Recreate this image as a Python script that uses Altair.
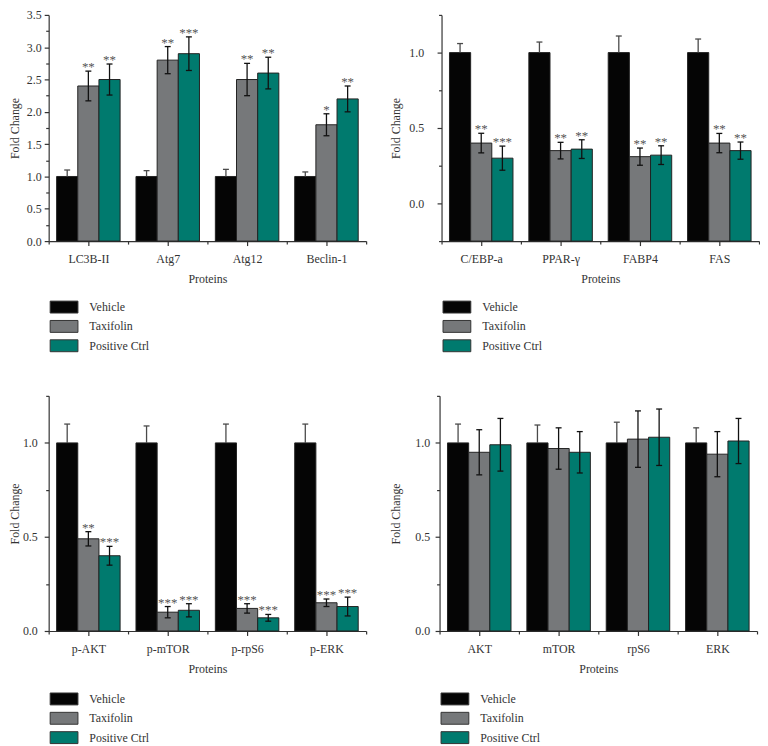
import altair as alt
import pandas as pd

# ---------------- data ----------------
groups = ["Vehicle", "Taxifolin", "Positive Ctrl"]
group_colors = ["#050505", "#76787a", "#007a6e"]

# Panel A: autophagy markers
a_proteins = ["LC3B-II", "Atg7", "Atg12", "Beclin-1"]
a_vehicle = [1.0, 1.0, 1.0, 1.0]
a_vehicle_err = [0.10, 0.09, 0.11, 0.07]
a_taxifolin = [2.40, 2.80, 2.50, 1.80]
a_taxifolin_err = [0.23, 0.21, 0.25, 0.17]
a_positive = [2.50, 2.90, 2.60, 2.20]
a_positive_err = [0.24, 0.26, 0.245, 0.20]
a_taxifolin_sig = ["**", "**", "**", "*"]
a_positive_sig = ["**", "***", "**", "**"]

# Panel B: adipogenic markers
b_proteins = ["C/EBP-a", "PPAR-γ", "FABP4", "FAS"]
b_vehicle = [1.0, 1.0, 1.0, 1.0]
b_vehicle_err = [0.06, 0.07, 0.11, 0.09]
b_taxifolin = [0.40, 0.35, 0.31, 0.40]
b_taxifolin_err = [0.065, 0.055, 0.057, 0.064]
b_positive = [0.30, 0.36, 0.32, 0.35]
b_positive_err = [0.08, 0.062, 0.062, 0.057]
b_taxifolin_sig = ["**", "**", "**", "**"]
b_positive_sig = ["***", "**", "**", "**"]

# Panel C: phosphorylated kinases
c_proteins = ["p-AKT", "p-mTOR", "p-rpS6", "p-ERK"]
c_vehicle = [1.0, 1.0, 1.0, 1.0]
c_vehicle_err = [0.10, 0.09, 0.10, 0.10]
c_taxifolin = [0.49, 0.10, 0.12, 0.15]
c_taxifolin_err = [0.038, 0.03, 0.025, 0.02]
c_positive = [0.40, 0.11, 0.07, 0.13]
c_positive_err = [0.05, 0.035, 0.018, 0.05]
c_taxifolin_sig = ["**", "***", "***", "***"]
c_positive_sig = ["***", "***", "***", "***"]

# Panel D: total kinases
d_proteins = ["AKT", "mTOR", "rpS6", "ERK"]
d_vehicle = [1.0, 1.0, 1.0, 1.0]
d_vehicle_err = [0.10, 0.095, 0.11, 0.08]
d_taxifolin = [0.95, 0.97, 1.02, 0.94]
d_taxifolin_err = [0.12, 0.11, 0.15, 0.12]
d_positive = [0.99, 0.95, 1.03, 1.01]
d_positive_err = [0.14, 0.11, 0.15, 0.12]

FONT = "Liberation Serif"
TXT = "#333333"
PLOT_W = 320
HSPACE = 23
VSPACE = 41
LEG_X = 9


def make_df(proteins, vals, errs, sigs):
    rows = []
    for i, p in enumerate(proteins):
        for j, g in enumerate(groups):
            rows.append(dict(protein=p, idx=i, gi=j, group=g,
                             value=vals[j][i], err=errs[j][i],
                             sig=sigs[j][i] if sigs[j] else ""))
    return pd.DataFrame(rows)


def steps(lo, hi, start, step):
    out = []
    v = start
    while v <= hi + 1e-9:
        if v >= lo - 1e-9:
            out.append(round(v, 2))
        v += step
    return out


def panel(proteins, vals, errs, sigs, ymin, ymax, height, leg_y, lab_pad, title_pad):
    df = make_df(proteins, vals, errs, sigs)
    n = len(proteins)
    bw = 0.8 / 3
    base = alt.Chart(df).transform_calculate(
        x0=f"datum.idx + 0.1 + datum.gi * {bw}",
        x1=f"datum.idx + 0.1 + (datum.gi + 1) * {bw}",
        xc=f"datum.idx + 0.1 + (datum.gi + 0.5) * {bw}",
        c0=f"datum.idx + 0.1 + (datum.gi + 0.5) * {bw} - 0.0375",
        c1=f"datum.idx + 0.1 + (datum.gi + 0.5) * {bw} + 0.0375",
        hi="datum.value + datum.err",
        lo="datum.gi == 0 ? datum.value : datum.value - datum.err",
        base=f"{ymin}",
    )
    names = ",".join("'" + p + "'" for p in proteins)
    xaxis = alt.Axis(
        orient="bottom", values=[k + 0.5 for k in range(n)], title="Proteins", grid=False,
        labelExpr=f"[{names}][floor(datum.value)]",
        tickSize=4.5, labelPadding=8, titlePadding=9,
        labelOverlap=False, labelFlush=False,
    )
    xaxis_minor = alt.Axis(
        orient="bottom", values=list(range(n + 1)), title=None, grid=False, labels=False,
        domain=False, tickSize=3,
    )
    yaxis = alt.Axis(
        orient="left", values=steps(ymin, ymax, 0.0 if ymin >= 0 else -0.5, 0.5),
        title="Fold Change", grid=False, format=".1f", tickSize=4.5, labelPadding=lab_pad,
        titlePadding=title_pad, labelOverlap=False, labelFlush=False,
    )
    yaxis_minor = alt.Axis(
        orient="left", values=steps(ymin, ymax, -0.25 if ymin < 0 else 0.25, 0.5), title=None,
        grid=False, labels=False, domain=False, tickSize=3,
    )
    xsc = alt.Scale(domain=[0, n], nice=False, zero=False)
    ysc = alt.Scale(domain=[ymin, ymax], nice=False, zero=False)
    bars = base.mark_rect(stroke="#222222", strokeWidth=1).encode(
        x=alt.X("x0:Q", scale=xsc, axis=xaxis),
        x2="x1:Q",
        y=alt.Y("value:Q", scale=ysc, axis=yaxis),
        y2="base:Q",
        fill=alt.Fill("group:N", sort=groups,
                      scale=alt.Scale(domain=groups, range=group_colors),
                      legend=alt.Legend(
                          orient="none", legendX=LEG_X, legendY=leg_y, title=None,
                          direction="vertical", columns=1, padding=0,
                          symbolType="M-2.333,-1H2.333V1H-2.333Z", symbolSize=144,
                          symbolStrokeColor="#333333", symbolStrokeWidth=1,
                          labelFont=FONT, labelFontSize=12, labelColor=TXT,
                          labelOffset=19, rowPadding=2.5)),
    )
    ecolor = alt.condition("datum.gi == 0", alt.value("#4a4a4a"), alt.value("#111111"))
    stem = base.mark_rule(strokeWidth=1.3).encode(
        x=alt.X("xc:Q", axis=xaxis_minor), y=alt.Y("lo:Q", axis=yaxis_minor),
        y2="hi:Q", color=ecolor)
    cap_hi = base.mark_rule(strokeWidth=1.3).encode(
        x=alt.X("c0:Q", axis=None), x2="c1:Q", y=alt.Y("hi:Q", axis=None), color=ecolor)
    cap_lo = base.transform_filter("datum.gi > 0").mark_rule(strokeWidth=1.3).encode(
        x=alt.X("c0:Q", axis=None), x2="c1:Q", y=alt.Y("lo:Q", axis=None), color=ecolor)
    stars = base.transform_filter("datum.sig != ''").mark_text(
        font=FONT, fontSize=13, color="#555555", baseline="alphabetic", align="center", dy=0
    ).encode(x=alt.X("xc:Q", axis=None), y=alt.Y("hi:Q", axis=None), text="sig:N")
    return alt.layer(bars, stem, cap_hi, cap_lo, stars).resolve_axis(
        x="independent", y="independent"
    ).properties(width=PLOT_W, height=height)


pA = panel(a_proteins, [a_vehicle, a_taxifolin, a_positive],
           [a_vehicle_err, a_taxifolin_err, a_positive_err],
           [[], a_taxifolin_sig, a_positive_sig], 0.0, 3.5, 228, 288, 3, 5)
pB = panel(b_proteins, [b_vehicle, b_taxifolin, b_positive],
           [b_vehicle_err, b_taxifolin_err, b_positive_err],
           [[], b_taxifolin_sig, b_positive_sig], -0.25, 1.25, 228, 288, 13.5, 6)
pC = panel(c_proteins, [c_vehicle, c_taxifolin, c_positive],
           [c_vehicle_err, c_taxifolin_err, c_positive_err],
           [[], c_taxifolin_sig, c_positive_sig], 0.0, 1.25, 237, 299, 7, 1)
pD = panel(d_proteins, [d_vehicle, d_taxifolin, d_positive],
           [d_vehicle_err, d_taxifolin_err, d_positive_err],
           [[], [], []], 0.0, 1.25, 237, 299, 5.5, 12)

row1 = alt.hconcat(pA, pB, spacing=HSPACE).resolve_scale(fill="independent").resolve_legend(fill="independent")
row2 = alt.hconcat(pC, pD, spacing=HSPACE).resolve_scale(fill="independent").resolve_legend(fill="independent")

chart = alt.vconcat(row1, row2, spacing=VSPACE).resolve_scale(fill="independent").resolve_legend(
    fill="independent"
).properties(
    padding={"left": 0, "top": -2, "right": 0, "bottom": 0}
).configure_view(stroke=None).configure_axis(
    labelFont=FONT, labelFontSize=12, labelColor=TXT,
    titleFont=FONT, titleFontSize=12, titleFontWeight="normal", titleColor=TXT,
    domainColor="#333333", tickColor="#333333", domainWidth=1.2, tickWidth=1.2,
).configure_legend(labelFont=FONT)

chart.save("out.html", embed_options={"renderer": "svg", "actions": False})
